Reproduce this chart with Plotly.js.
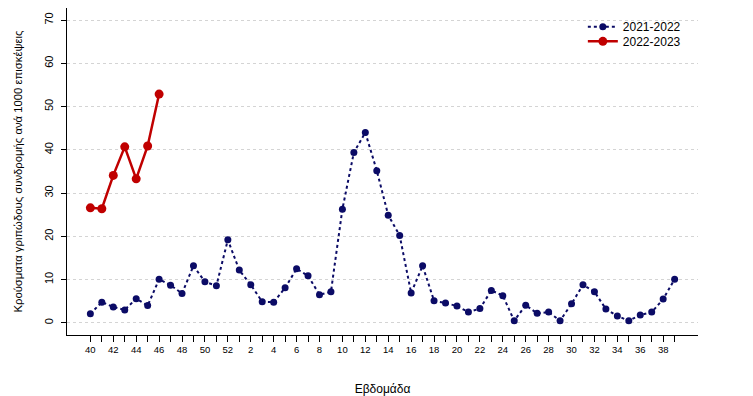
<!DOCTYPE html>
<html>
<head>
<meta charset="utf-8">
<script src="https://cdn.plot.ly/plotly-3.0.1.min.js"></script>
<style>html,body{margin:0;padding:0;background:#fff;}#chart{width:753px;height:396px;}</style>
</head>
<body>
<div id="chart"></div>
<script>
const weeks = ["40","41","42","43","44","45","46","47","48","49","50","51","52","1","2","3","4","5","6","7","8","9","10","11","12","13","14","15","16","17","18","19","20","21","22","23","24","25","26","27","28","29","30","31","32","33","34","35","36","37","38","39"];
const season2122 = [2.1,4.8,3.7,3.0,5.6,4.0,10.1,8.7,6.8,13.2,9.5,8.6,19.2,12.2,8.8,4.9,4.8,8.1,12.5,10.9,6.5,7.2,26.3,39.4,44.0,35.2,24.9,20.2,6.9,13.2,5.1,4.6,3.9,2.5,3.3,7.5,6.3,0.5,4.1,2.2,2.5,0.5,4.4,8.8,7.2,3.2,1.6,0.5,1.8,2.5,5.5,10.1];
const weeks2223 = ["40","41","42","43","44","45","46"];
const season2223 = [26.6,26.4,34.1,40.7,33.3,40.9,52.9];
const yTicks = [0,10,20,30,40,50,60,70];
const xTickText = weeks.map(w => (parseInt(w) % 2 === 0 ? w : ""));

const font = "Liberation Sans, Arial, sans-serif";
const traces = [
  {x: weeks, y: season2122, name: "2021-2022", type: "scatter", mode: "lines+markers",
   line: {color: "#0b0b66", width: 2, dash: "dot"}, marker: {color: "#0b0b66", size: 7},
   legend: "legend"},
  {x: weeks2223, y: season2223, name: "2022-2023", type: "scatter", mode: "lines+markers",
   line: {color: "#c00000", width: 2.5}, marker: {color: "#c00000", size: 9},
   legend: "legend2"}
];
const legendBase = {xanchor: "left", x: 0.8175, yanchor: "middle", font: {size: 12, family: font},
                    bgcolor: "rgba(255,255,255,0)", borderwidth: 0};
const layout = {
  width: 753, height: 396,
  margin: {l: 67, r: 55, t: 8, b: 61},
  paper_bgcolor: "#fff", plot_bgcolor: "#fff",
  font: {family: font, color: "#000", size: 11},
  showlegend: true,
  legend: Object.assign({}, legendBase, {y: 0.943}),
  legend2: Object.assign({}, legendBase, {y: 0.898}),
  xaxis: {type: "category", categoryorder: "array", categoryarray: weeks,
          range: [-2.04, 53.04], tickmode: "array", tickvals: weeks, ticktext: xTickText,
          ticks: "outside", ticklen: 6, tickcolor: "#000", tickfont: {size: 9.5},
          showline: true, linecolor: "#000", linewidth: 1, showgrid: false, zeroline: false,
          title: {text: "Εβδομάδα", font: {size: 12}, standoff: 30}},
  yaxis: {range: [-2.8, 72.8], tickmode: "array", tickvals: yTicks, ticktext: yTicks.map(String),
          tickangle: -90, ticks: "outside", ticklen: 5, tickcolor: "#000", tickfont: {size: 11},
          ticklabelstandoff: 4,
          showline: true, linecolor: "#000", linewidth: 1, zeroline: false,
          showgrid: true, gridcolor: "#d4d4d4", griddash: "dot", gridwidth: 1,
          title: {text: "Κρούσματα γριπώδους συνδρομής ανά 1000 επισκέψεις", font: {size: 11.3}, standoff: 17}}
};
Plotly.newPlot("chart", traces, layout, {displayModeBar: false, staticPlot: true});
</script>
</body>
</html>
